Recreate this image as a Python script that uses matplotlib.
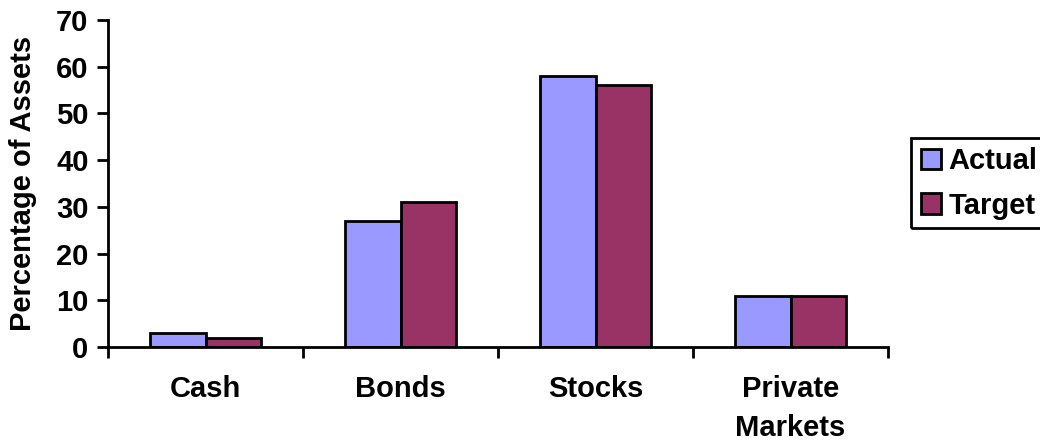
import matplotlib
matplotlib.use("Agg")
import matplotlib.pyplot as plt
from matplotlib.patches import Rectangle
import numpy as np

categories = ["Cash", "Bonds", "Stocks", "Private\nMarkets"]
actual = [3, 27, 58, 11]
target = [2, 31, 56, 11]
series_names = ["Actual", "Target"]
yticks = [0, 10, 20, 30, 40, 50, 60, 70]

plt.rcParams['font.family'] = ['Liberation Sans', 'DejaVu Sans']
plt.rcParams['font.weight'] = 'bold'

FS = 21
W, H = 1040, 441
fig = plt.figure(figsize=(W / 100, H / 100), dpi=100)
ax = fig.add_axes([108 / W, 1 - 347 / H, 780 / W, 327 / H])

x = np.arange(len(categories))
w = 0.287
ax.bar(x - w/2, actual, w, color='#9999FF', edgecolor='black', linewidth=2, label=series_names[0])
ax.bar(x + w/2, target, w, color='#993366', edgecolor='black', linewidth=2, label=series_names[1])

ax.set_xlim(-0.5, len(categories) - 0.5)
ax.set_ylim(0, 70)
ax.set_yticks(yticks)
ax.set_yticklabels([str(t) for t in yticks], fontsize=FS, fontweight='bold')
ax.set_xticks(np.arange(-0.5, len(categories), 1.0))
ax.set_xticklabels([])
ax.set_xticks(x, minor=True)
ax.set_xticklabels(categories, minor=True, fontsize=FS, fontweight='bold', linespacing=1.5)
ax.tick_params(axis='x', which='minor', length=0, pad=20)
ax.tick_params(axis='x', which='major', direction='out', length=8, width=2)
ax.tick_params(axis='y', direction='out', length=8, width=2, pad=6)
for s in ['top', 'right']:
    ax.spines[s].set_visible(False)
for s in ['left', 'bottom']:
    ax.spines[s].set_linewidth(2)

ax.set_ylabel("Percentage of Assets", fontsize=FS, fontweight='bold', labelpad=14)

leg = ax.legend(loc='center left', bbox_to_anchor=(1.031, 0.5), fontsize=FS, frameon=False,
                handlelength=0.7, handleheight=0.7,
                handletextpad=0.25, borderpad=0.3, labelspacing=0.55, borderaxespad=0)
for t in leg.get_texts():
    t.set_fontweight('bold')

fig.add_artist(Rectangle((911 / W, 1 - 228 / H), 140 / W, 90 / H, transform=fig.transFigure,
                         fill=False, edgecolor='black', linewidth=2, clip_on=False))

fig.savefig("out.png", dpi=100)
